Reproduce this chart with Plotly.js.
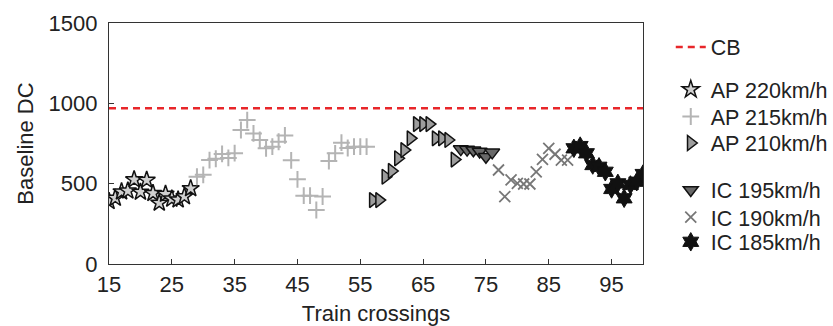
<!DOCTYPE html>
<html>
<head>
<meta charset="utf-8">
<script src="https://cdn.plot.ly/plotly-3.0.1.min.js"></script>
<style>
html,body{margin:0;padding:0;background:#fff;}
#chart{width:833px;height:326px;}
</style>
</head>
<body>
<div id="chart"></div>
<script>
// ---- data ----
const cbX = [15, 100];
const cbY = [970, 970];

const ap220X = [15,16,17,18,19,20,21,22,23,24,25,26,27,28];
const ap220Y = [390,410,450,455,525,448,522,440,380,435,405,400,420,470];

const ap215X = [29,30,31,32,33,34,35,36,37,38,39,40,41,42,43,44,45,46,47,48,49,50,51,52,53,54,55,56];
const ap215Y = [543,555,647,655,685,660,690,834,896,813,772,720,730,761,800,645,527,425,425,336,420,641,689,755,722,730,730,730];

const ap210X = [57,58,59,60,61,62,63,64,65,66,67,68,69,70];
const ap210Y = [398,398,543,579,658,709,782,871,871,871,782,782,772,650];

const ic195X = [71,72,73,74,75,76];
const ic195Y = [715,712,708,700,668,695];

const ic190X = [77,78,79,80,81,82,83,84,85,86,87,88];
const ic190Y = [585,420,523,502,498,498,574,651,720,683,647,647];

const ic185X = [89,90,91,92,93,94,95,96,97,98,99,100];
const ic185Y = [720,734,689,616,605,574,467,502,409,492,512,560];

const xTicks = [15,25,35,45,55,65,75,85,95];
const yTicks = [0,500,1000,1500];

// ---- traces ----
const traces = [
  {x: cbX, y: cbY, name: 'CB', mode: 'lines', legend: 'legend',
   line: {color: '#e8262a', width: 2.5, dash: '7px,5px'}},
  {x: ap220X, y: ap220Y, name: 'AP 220km/h', mode: 'markers', legend: 'legend2',
   marker: {symbol: 'star', size: 13, color: '#d0d0d0', line: {color: '#111', width: 1.5}}},
  {x: ap215X, y: ap215Y, name: 'AP 215km/h', mode: 'markers', legend: 'legend3',
   marker: {symbol: 'cross-thin', size: 12, color: '#b4b4b4', line: {color: '#b4b4b4', width: 2}}},
  {x: ap210X, y: ap210Y, name: 'AP 210km/h', mode: 'markers', legend: 'legend4',
   marker: {symbol: 'triangle-right', size: 13, color: '#9d9d9d', line: {color: '#111', width: 1.5}}},
  {x: ic195X, y: ic195Y, name: 'IC 195km/h', mode: 'markers', legend: 'legend5',
   marker: {symbol: 'triangle-down', size: 13, color: '#686868', line: {color: '#111', width: 1.5}}},
  {x: ic190X, y: ic190Y, name: 'IC 190km/h', mode: 'markers', legend: 'legend6',
   marker: {symbol: 'x-thin', size: 11, color: '#777', line: {color: '#777', width: 1.8}}},
  {x: ic185X, y: ic185Y, name: 'IC 185km/h', mode: 'markers', legend: 'legend7',
   marker: {symbol: 'hexagram', size: 14, color: '#111', line: {color: '#111', width: 1}}}
];

const FONT = 'Liberation Sans, Arial, Helvetica, sans-serif';
function leg(y) {
  return {x: 1.052, y: y, xanchor: 'left', yanchor: 'middle', bgcolor: 'rgba(0,0,0,0)',
          borderwidth: 0, font: {family: FONT, size: 21.5, color: '#222'}};
}

const layout = {
  width: 833, height: 326,
  margin: {l: 109, r: 190, t: 23, b: 62, pad: 0, autoexpand: false},
  paper_bgcolor: '#fff', plot_bgcolor: '#fff',
  font: {family: FONT, size: 22, color: '#222'},
  showlegend: true,
  xaxis: {
    range: [15, 100], tickmode: 'array', tickvals: xTicks, ticktext: xTicks.map(String),
    ticks: 'inside', ticklen: 5, tickcolor: '#333', tickwidth: 1,
    showline: true, linecolor: '#333', linewidth: 1.2, mirror: true,
    showgrid: false, zeroline: false, automargin: false,
    tickfont: {family: FONT, size: 22, color: '#222'},
    title: {text: 'Train crossings', font: {family: FONT, size: 22, color: '#222'}, standoff: 10}
  },
  yaxis: {
    range: [0, 1500], tickmode: 'array', tickvals: yTicks, ticktext: yTicks.map(String),
    ticks: 'inside', ticklen: 5, tickcolor: '#333', tickwidth: 1,
    showline: true, linecolor: '#333', linewidth: 1.2, mirror: true,
    showgrid: false, zeroline: false, ticklabelstandoff: 6, automargin: false,
    tickfont: {family: FONT, size: 22, color: '#222'},
    title: {text: 'Baseline DC', font: {family: FONT, size: 22, color: '#222'}, standoff: 8}
  },
  legend: leg(0.900),
  legend2: leg(0.724),
  legend3: leg(0.612),
  legend4: leg(0.502),
  legend5: leg(0.307),
  legend6: leg(0.194),
  legend7: leg(0.092)
};

Plotly.newPlot('chart', traces, layout, {staticPlot: true, displayModeBar: false});
</script>
</body>
</html>
